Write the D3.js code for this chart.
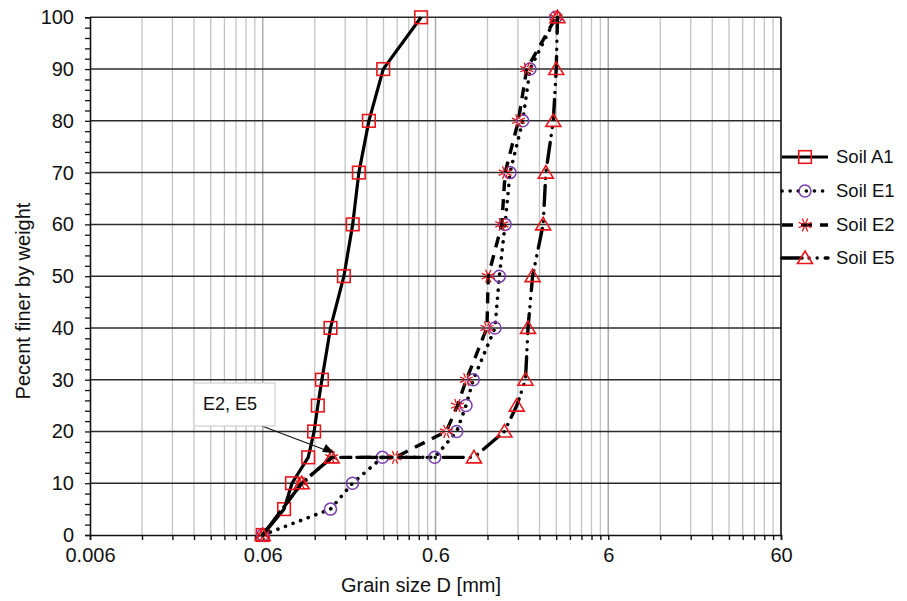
<!DOCTYPE html>
<html>
<head>
<meta charset="utf-8">
<script src="https://cdn.jsdelivr.net/npm/d3@7"></script>
<style>
  html, body { margin: 0; padding: 0; background: #fff; }
  svg { display: block; font-family: "Liberation Sans", Arial, sans-serif; }
</style>
</head>
<body>
<svg id="chart" width="907" height="601"></svg>
<script>
// ---- data ----
const seriesNames = ["Soil A1", "Soil E1", "Soil E2", "Soil E5"];
const pctA1 = [0, 5, 10, 15, 20, 25, 30, 40, 50, 60, 70, 80, 90, 100];
const sizeA1 = [0.06, 0.0797, 0.0886, 0.110, 0.119, 0.125, 0.132, 0.148, 0.177, 0.199, 0.216, 0.247, 0.299, 0.495];
const pctE1 = [0, 5, 10, 15, 15, 20, 25, 30, 40, 50, 60, 70, 80, 90, 100];
const sizeE1 = [0.06, 0.148, 0.1985, 0.2955, 0.594, 0.796, 0.901, 0.9925, 1.326, 1.405, 1.516, 1.62, 1.919, 2.114, 2.986];
const pctE2 = [0, 10, 15, 15, 20, 25, 30, 40, 50, 60, 70, 80, 90, 100];
const sizeE2 = [0.06, 0.1008, 0.1504, 0.35, 0.6935, 0.803, 0.905, 1.191, 1.212, 1.452, 1.518, 1.81, 2.024, 2.986];
const pctE5 = [0, 10, 15, 15, 20, 25, 30, 40, 50, 60, 70, 80, 90, 100];
const sizeE5 = [0.06, 0.1008, 0.1504, 1.002, 1.504, 1.773, 1.991, 2.059, 2.189, 2.52, 2.612, 2.885, 3.0, 3.05];
const xTickLabels = ["0.006", "0.06", "0.6", "6", "60"];
const xTickValues = [0.006, 0.06, 0.6, 6, 60];
const yTickValues = [0, 10, 20, 30, 40, 50, 60, 70, 80, 90, 100];
const annotationText = "E2, E5";
const xTitle = "Grain size D [mm]";
const yTitle = "Pecent finer by weight";

// ---- layout ----
const L = 90, R = 781, T = 17.3, B = 535;
const svg = d3.select("#chart");
const x = d3.scaleLog().domain([0.006, 60]).range([L, R]);
const y = d3.scaleLinear().domain([0, 100]).range([B, T]);

// minor log positions (multiples of each decade start)
const minorX = [];
xTickValues.slice(0, -1).forEach(v => { for (let k = 2; k <= 9; k++) minorX.push(v * k); });

const grid = svg.append("g");
grid.selectAll("line.minor").data(minorX).join("line")
  .attr("x1", d => x(d)).attr("x2", d => x(d)).attr("y1", T).attr("y2", B)
  .attr("stroke", "#c4c4c4").attr("stroke-width", 1.3);
grid.selectAll("line.major").data(xTickValues.slice(1, -1)).join("line")
  .attr("class", "major")
  .attr("x1", d => x(d)).attr("x2", d => x(d)).attr("y1", T).attr("y2", B)
  .attr("stroke", "#a6a6a6").attr("stroke-width", 1.4);
grid.selectAll("line.h").data(yTickValues.slice(1)).join("line")
  .attr("class", "h")
  .attr("x1", L).attr("x2", R).attr("y1", d => y(d)).attr("y2", d => y(d))
  .attr("stroke", "#2b2b2b").attr("stroke-width", 1.5);

// axes
const xAxis = d3.axisBottom(x)
  .tickValues(xTickValues.concat(minorX))
  .tickSize(5)
  .tickFormat(d => { const i = xTickValues.findIndex(v => Math.abs(v - d) / d < 1e-6); return i >= 0 ? xTickLabels[i] : ""; });
const gx = svg.append("g").attr("transform", `translate(0,${B})`).call(xAxis);
gx.select(".domain").attr("stroke", "#111").attr("stroke-width", 1.6);
gx.selectAll(".tick line").attr("stroke", "#111").attr("stroke-width", 1.4);
gx.selectAll(".tick text").attr("font-size", 20).attr("fill", "#111").attr("y", 13).attr("dy", "0.71em");

const yAxis = d3.axisLeft(y)
  .tickValues(d3.range(0, 101, 2))
  .tickSize(5)
  .tickFormat(d => (d % 10 === 0 ? String(d) : ""));
const gy = svg.append("g").attr("transform", `translate(${L},0)`).call(yAxis);
gy.select(".domain").attr("stroke", "#111").attr("stroke-width", 1.6);
gy.selectAll(".tick line").attr("stroke", "#111").attr("stroke-width", 1.3);
gy.selectAll(".tick text").attr("font-size", 20).attr("fill", "#111").attr("x", -16);

// right border
svg.append("line").attr("x1", R).attr("x2", R).attr("y1", T).attr("y2", B)
  .attr("stroke", "#111").attr("stroke-width", 1.6);

// titles
svg.append("text").attr("x", 421).attr("y", 592).attr("text-anchor", "middle")
  .attr("font-size", 20).attr("fill", "#111").text(xTitle);
svg.append("text").attr("transform", "translate(30,301) rotate(-90)").attr("text-anchor", "middle")
  .attr("font-size", 20).attr("fill", "#111").text(yTitle);

// ---- series ----
const red = "#e8161b", purple = "#7a3fb0";
const styles = [
  { dash: null, cap: "butt", width: 3.2, marker: "square" },
  { dash: "0.1,8", cap: "round", width: 3.6, marker: "circle" },
  { dash: "11,8", cap: "butt", width: 3.4, marker: "star" },
  { dash: "20,7,0.1,8,0.1,8", cap: "round", width: 3.4, marker: "triangle" }
];
const seriesData = [
  sizeA1.map((s, i) => ({ s, p: pctA1[i] })),
  sizeE1.map((s, i) => ({ s, p: pctE1[i] })),
  sizeE2.map((s, i) => ({ s, p: pctE2[i] })),
  sizeE5.map((s, i) => ({ s, p: pctE5[i] }))
];
const line = d3.line().x(d => x(d.s)).y(d => y(d.p)).curve(d3.curveLinear);

function drawMarker(g, type, cx, cy) {
  if (type === "square") {
    g.append("rect").attr("x", cx - 6.3).attr("y", cy - 6.3).attr("width", 12.6).attr("height", 12.6)
      .attr("fill", "none").attr("stroke", red).attr("stroke-width", 1.6);
  } else if (type === "circle") {
    g.append("circle").attr("cx", cx).attr("cy", cy).attr("r", 6)
      .attr("fill", "none").attr("stroke", purple).attr("stroke-width", 1.5);
  } else if (type === "triangle") {
    const p = [[cx, cy - 7], [cx + 7.5, cy + 5.5], [cx - 7.5, cy + 5.5]];
    g.append("path").attr("d", "M" + p.join("L") + "Z")
      .attr("fill", "none").attr("stroke", red).attr("stroke-width", 1.6);
  } else if (type === "star") {
    for (let k = 0; k < 8; k++) {
      const a = k * Math.PI / 4 + Math.PI / 8;
      g.append("line")
        .attr("x1", cx + 2 * Math.cos(a)).attr("y1", cy + 2 * Math.sin(a))
        .attr("x2", cx + 7 * Math.cos(a)).attr("y2", cy + 7 * Math.sin(a))
        .attr("stroke", red).attr("stroke-width", 1.3);
    }
  }
}

seriesData.forEach((data, i) => {
  const st = styles[i];
  const g = svg.append("g");
  const path = g.append("path").attr("d", line(data)).attr("fill", "none")
    .attr("stroke", "#000").attr("stroke-width", st.width).attr("stroke-linecap", st.cap)
    .attr("stroke-linejoin", "round");
  if (st.dash) path.attr("stroke-dasharray", st.dash);
  data.forEach(d => drawMarker(g, st.marker, x(d.s), y(d.p)));
});

// ---- annotation ----
const ann = svg.append("g");
ann.append("line").attr("x1", 262).attr("y1", 426).attr("x2", 328).attr("y2", 451)
  .attr("stroke", "#111").attr("stroke-width", 1.2);
ann.append("path").attr("d", "M334,453 L322,452 L326,444 Z").attr("fill", "#000");
ann.append("rect").attr("x", 194).attr("y", 383).attr("width", 81).attr("height", 43)
  .attr("fill", "#fff").attr("stroke", "#cfcfcf").attr("stroke-width", 1.2);
ann.append("text").attr("x", 203).attr("y", 410).attr("font-size", 18).attr("fill", "#111").text(annotationText);

// ---- legend ----
const legY = [157, 191, 225, 258];
seriesNames.forEach((name, i) => {
  const st = styles[i];
  const g = svg.append("g");
  const ly = legY[i];
  const pl = g.append("line").attr("x1", 782).attr("x2", 828).attr("y1", ly).attr("y2", ly)
    .attr("stroke", "#000").attr("stroke-width", st.width).attr("stroke-linecap", st.cap);
  if (st.dash) pl.attr("stroke-dasharray", st.dash);
  drawMarker(g, st.marker, 805, ly);
  g.append("text").attr("x", 836).attr("y", ly).attr("dy", "0.35em")
    .attr("font-size", 18.5).attr("fill", "#111").text(name);
});
</script>
</body>
</html>
